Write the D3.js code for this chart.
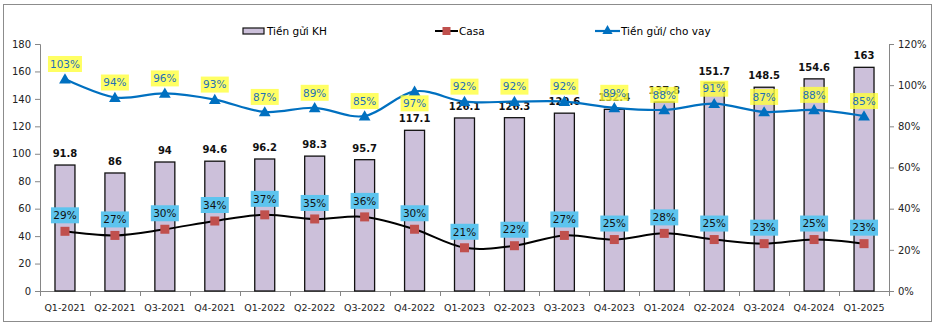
<!DOCTYPE html>
<html>
<head>
<meta charset="utf-8">
<script src="https://cdn.jsdelivr.net/npm/d3@7"></script>
<style>
body { margin: 0; background: #fff; }
svg { font-family: "DejaVu Sans", sans-serif; }
</style>
</head>
<body>
<svg width="936" height="327"></svg>
<script>
// data
var quarters = ['Q1-2021', 'Q2-2021', 'Q3-2021', 'Q4-2021', 'Q1-2022', 'Q2-2022', 'Q3-2022', 'Q4-2022',
    'Q1-2023', 'Q2-2023', 'Q3-2023', 'Q4-2023', 'Q1-2024', 'Q2-2024', 'Q3-2024', 'Q4-2024', 'Q1-2025'];
var deposits = [91.8, 86, 94, 94.6, 96.2, 98.3, 95.7, 117.1, 126.1, 126.3, 129.6, 132.4, 137.8, 151.7, 148.5, 154.6, 163];
var casa = [29, 27, 30, 34, 37, 35, 36, 30, 21, 22, 27, 25, 28, 25, 23, 25, 23];
var ldr = [103, 94, 96, 93, 87, 89, 85, 97, 92, 92, 92, 89, 88, 91, 87, 88, 85];
var leftTicks = [0, 20, 40, 60, 80, 100, 120, 140, 160, 180];
var rightTicks = [0, 20, 40, 60, 80, 100, 120];

var svg = d3.select('svg');
var pLeft = 40, pRight = 889, pTop = 44, pBottom = 291;

// outer frame
svg.append('rect')
    .attr('x', 3.5).attr('y', 4.5)
    .attr('width', 928).attr('height', 317)
    .attr('fill', 'none')
    .attr('stroke', '#8c8c8c')
    .attr('stroke-width', 1);

var x = d3.scaleBand().domain(quarters).range([pLeft, pRight]).paddingInner(0.6).paddingOuter(0.3);
var xStep = d3.scaleBand().domain(quarters).range([pLeft, pRight]);
var y = d3.scaleLinear().domain([0, 180]).range([pBottom, pTop]);
var y2 = d3.scaleLinear().domain([0, 120]).range([pBottom, pTop]);

// axes
var axisColor = '#868686';
var gL = svg.append('g').attr('transform', 'translate(' + pLeft + ',0)')
    .call(d3.axisLeft(y).tickValues(leftTicks).tickSize(5).tickPadding(4));
var gR = svg.append('g').attr('transform', 'translate(' + pRight + ',0)')
    .call(d3.axisRight(y2).tickValues(rightTicks).tickSize(5).tickPadding(4)
        .tickFormat(function (d) { return d + '%'; }));
[gL, gR].forEach(function (g) {
    g.select('.domain').attr('stroke', axisColor);
    g.selectAll('.tick line').attr('stroke', axisColor);
    g.selectAll('text').attr('fill', '#222').style('font-size', '10px').style('font-family', 'DejaVu Sans');
});

// x axis with tick marks between categories
var gX = svg.append('g');
gX.append('line').attr('x1', pLeft).attr('x2', pRight).attr('y1', pBottom + 0.5).attr('y2', pBottom + 0.5)
    .attr('stroke', axisColor);
gX.selectAll('line.tk')
    .data(quarters.concat(['end']))
    .enter().append('line')
    .attr('class', 'tk')
    .attr('x1', function (d, i) { return Math.round(pLeft + i * xStep.step()) + 0.5; })
    .attr('x2', function (d, i) { return Math.round(pLeft + i * xStep.step()) + 0.5; })
    .attr('y1', pBottom).attr('y2', pBottom + 5)
    .attr('stroke', axisColor);
gX.selectAll('text')
    .data(quarters)
    .enter().append('text')
    .attr('x', function (d) { return x(d) + x.bandwidth() / 2; })
    .attr('y', 311)
    .attr('text-anchor', 'middle')
    .style('font-size', '9.5px')
    .attr('fill', '#222')
    .text(function (d) { return d; });

// bars
svg.selectAll('rect.bar')
    .data(deposits)
    .enter().append('rect')
    .attr('class', 'bar')
    .attr('x', function (d, i) { return x(quarters[i]); })
    .attr('y', function (d) { return y(d); })
    .attr('width', x.bandwidth())
    .attr('height', function (d) { return pBottom - y(d); })
    .attr('fill', '#ccc0da')
    .attr('stroke', '#111')
    .attr('stroke-width', 1.3);

function cx(i) { return x(quarters[i]) + x.bandwidth() / 2; }

// bar labels
svg.selectAll('text.bl')
    .data(deposits)
    .enter().append('text')
    .attr('class', 'bl')
    .attr('x', function (d, i) { return cx(i); })
    .attr('y', function (d) { return y(d) - 8; })
    .attr('text-anchor', 'middle')
    .style('font-size', '10px')
    .style('font-weight', 'bold')
    .attr('fill', '#111')
    .text(function (d) { return d; });

var curve = d3.curveCardinal.tension(0);

// casa line
var line2 = d3.line()
    .x(function (d, i) { return cx(i); })
    .y(function (d) { return y2(d); })
    .curve(curve);
svg.append('path').datum(casa)
    .attr('d', line2)
    .attr('fill', 'none')
    .attr('stroke', '#000')
    .attr('stroke-width', 2);
svg.selectAll('rect.cm')
    .data(casa)
    .enter().append('rect')
    .attr('class', 'cm')
    .attr('x', function (d, i) { return cx(i) - 4.5; })
    .attr('y', function (d) { return y2(d) - 4.5; })
    .attr('width', 9).attr('height', 9)
    .attr('fill', '#c0504d');

// ldr line
svg.append('path').datum(ldr)
    .attr('d', line2)
    .attr('fill', 'none')
    .attr('stroke', '#0070c0')
    .attr('stroke-width', 2.2);
svg.selectAll('path.tm')
    .data(ldr)
    .enter().append('path')
    .attr('class', 'tm')
    .attr('d', d3.symbol().type(d3.symbolTriangle).size(60))
    .attr('transform', function (d, i) { return 'translate(' + cx(i) + ',' + (y2(d) + 1) + ')'; })
    .attr('fill', '#0070c0');

// percentage labels with filled boxes
function boxLabels(data, cls, bg, op, fg, dyFn) {
    var g = svg.selectAll('g.' + cls)
        .data(data)
        .enter().append('g')
        .attr('class', cls)
        .attr('transform', function (d, i) { return 'translate(' + cx(i) + ',' + (y2(d) + dyFn(d, i)) + ')'; });
    g.append('rect')
        .attr('x', function (d) { return d >= 100 ? -17 : -14; })
        .attr('y', -8)
        .attr('width', function (d) { return d >= 100 ? 34 : 28; })
        .attr('height', 16)
        .attr('fill', bg)
        .attr('fill-opacity', op);
    g.append('text')
        .attr('text-anchor', 'middle')
        .attr('dy', '0.36em')
        .style('font-size', '10.5px')
        .attr('fill', fg)
        .text(function (d) { return d + '%'; });
}
boxLabels(ldr, 'ldrl', '#ffff3c', 0.8, '#1f70b8', function (d, i) { return i === 7 ? 12 : -15; });
boxLabels(casa, 'casal', '#5dc4ee', 1, '#111', function () { return -16; });

// legend
var lg = svg.append('g').attr('transform', 'translate(0,31)');
lg.append('rect').attr('x', 243).attr('y', -3).attr('width', 21).attr('height', 6)
    .attr('fill', '#ccc0da').attr('stroke', '#111').attr('stroke-width', 1.2);
lg.append('text').attr('x', 267).attr('dy', '0.35em').style('font-size', '10.5px').text('Tiền gửi KH');
lg.append('line').attr('x1', 435).attr('x2', 458).attr('stroke', '#000').attr('stroke-width', 2);
lg.append('rect').attr('x', 442.5).attr('y', -4).attr('width', 8).attr('height', 8).attr('fill', '#c0504d');
lg.append('text').attr('x', 459).attr('dy', '0.35em').style('font-size', '10.5px').text('Casa');
lg.append('line').attr('x1', 595).attr('x2', 620).attr('stroke', '#0070c0').attr('stroke-width', 2.2);
lg.append('path').attr('d', d3.symbol().type(d3.symbolTriangle).size(45))
    .attr('transform', 'translate(607.5,0)').attr('fill', '#0070c0');
lg.append('text').attr('x', 621).attr('dy', '0.35em').style('font-size', '10.5px').text('Tiền gửi/ cho vay');
</script>
</body>
</html>
